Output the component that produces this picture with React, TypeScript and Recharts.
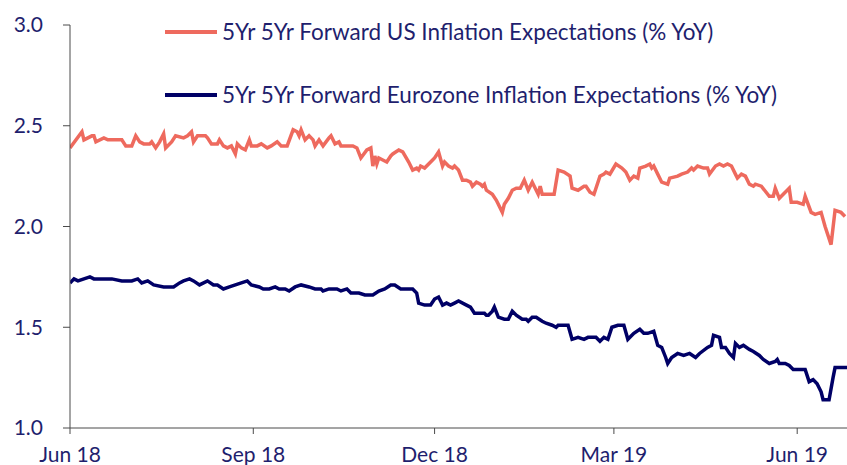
import React from "react";
import { LineChart, Line, XAxis, YAxis, Legend } from "recharts";

const usDates = [
  "2018-06-01","2018-06-07","2018-06-08","2018-06-12","2018-06-13","2018-06-14","2018-06-18","2018-06-20","2018-06-25","2018-06-27",
  "2018-06-29","2018-07-02","2018-07-04","2018-07-06","2018-07-08","2018-07-11","2018-07-12","2018-07-14","2018-07-16","2018-07-18",
  "2018-07-19","2018-07-22","2018-07-24","2018-07-28","2018-07-30","2018-08-01","2018-08-02","2018-08-04","2018-08-05","2018-08-08",
  "2018-08-09","2018-08-11","2018-08-14","2018-08-15","2018-08-17","2018-08-19","2018-08-21","2018-08-23","2018-08-24","2018-08-26",
  "2018-08-28","2018-08-30","2018-08-31","2018-09-03","2018-09-05","2018-09-08","2018-09-10","2018-09-13","2018-09-15","2018-09-18",
  "2018-09-21","2018-09-23","2018-09-24","2018-09-25","2018-09-27","2018-09-29","2018-10-01","2018-10-02","2018-10-04","2018-10-06",
  "2018-10-09","2018-10-10","2018-10-12","2018-10-14","2018-10-15","2018-10-17","2018-10-19","2018-10-21","2018-10-23","2018-10-25",
  "2018-10-28","2018-10-30","2018-10-31","2018-11-01","2018-11-02","2018-11-03","2018-11-05","2018-11-07","2018-11-09","2018-11-10",
  "2018-11-13","2018-11-15","2018-11-18","2018-11-20","2018-11-22","2018-11-23","2018-11-24","2018-11-26","2018-11-30","2018-12-01",
  "2018-12-03","2018-12-05","2018-12-06","2018-12-08","2018-12-10","2018-12-11","2018-12-13","2018-12-15","2018-12-17","2018-12-19",
  "2018-12-20","2018-12-22","2018-12-24","2018-12-25","2018-12-26","2018-12-27","2018-12-30","2019-01-01","2019-01-04","2019-01-05",
  "2019-01-07","2019-01-09","2019-01-11","2019-01-13","2019-01-15","2019-01-17","2019-01-19","2019-01-21","2019-01-22","2019-01-23",
  "2019-01-24","2019-01-26","2019-01-30","2019-02-01","2019-02-04","2019-02-07","2019-02-08","2019-02-11","2019-02-14","2019-02-15",
  "2019-02-17","2019-02-19","2019-02-22","2019-02-24","2019-02-25","2019-02-27","2019-03-02","2019-03-05","2019-03-07","2019-03-09",
  "2019-03-11","2019-03-13","2019-03-14","2019-03-17","2019-03-19","2019-03-20","2019-03-21","2019-03-23","2019-03-25","2019-03-28",
  "2019-03-29","2019-04-02","2019-04-04","2019-04-07","2019-04-09","2019-04-10","2019-04-12","2019-04-15","2019-04-17","2019-04-18",
  "2019-04-21","2019-04-23","2019-04-25","2019-04-27","2019-04-29","2019-05-01","2019-05-02","2019-05-04","2019-05-06","2019-05-08",
  "2019-05-10","2019-05-11","2019-05-14","2019-05-18","2019-05-20","2019-05-21","2019-05-23","2019-05-26","2019-05-28","2019-05-29",
  "2019-06-01","2019-06-04","2019-06-05","2019-06-08","2019-06-10","2019-06-13","2019-06-15","2019-06-18","2019-06-20","2019-06-23",
  "2019-06-25",
];
const usValues = [
  2.39,2.47,2.43,2.45,2.45,2.42,2.44,2.43,2.43,2.43,
  2.40,2.40,2.45,2.42,2.41,2.41,2.42,2.39,2.42,2.46,
  2.39,2.42,2.45,2.44,2.45,2.47,2.42,2.45,2.45,2.45,
  2.44,2.41,2.41,2.43,2.40,2.39,2.40,2.36,2.41,2.39,
  2.38,2.43,2.40,2.40,2.41,2.39,2.40,2.42,2.40,2.40,
  2.48,2.47,2.45,2.48,2.43,2.45,2.43,2.40,2.43,2.40,
  2.44,2.45,2.41,2.42,2.40,2.40,2.40,2.40,2.39,2.34,
  2.38,2.39,2.30,2.35,2.31,2.34,2.33,2.32,2.35,2.36,
  2.38,2.37,2.32,2.28,2.29,2.28,2.30,2.29,2.33,2.34,
  2.37,2.30,2.32,2.30,2.29,2.30,2.28,2.23,2.23,2.22,
  2.20,2.22,2.21,2.20,2.21,2.18,2.16,2.13,2.07,2.11,
  2.14,2.18,2.19,2.19,2.23,2.18,2.22,2.18,2.16,2.20,
  2.16,2.16,2.16,2.28,2.27,2.25,2.19,2.18,2.20,2.20,
  2.17,2.16,2.25,2.26,2.27,2.26,2.31,2.29,2.27,2.23,
  2.25,2.24,2.29,2.30,2.31,2.29,2.30,2.26,2.22,2.21,
  2.24,2.25,2.26,2.27,2.29,2.28,2.30,2.29,2.29,2.26,
  2.30,2.31,2.30,2.31,2.30,2.26,2.24,2.26,2.25,2.21,
  2.20,2.21,2.20,2.15,2.15,2.19,2.14,2.17,2.19,2.12,
  2.12,2.11,2.15,2.07,2.06,2.07,2.00,1.91,2.08,2.07,
  2.05,
];

const euDates = [
  "2018-06-01","2018-06-03","2018-06-05","2018-06-08","2018-06-11","2018-06-13","2018-06-16","2018-06-19","2018-06-22","2018-06-27",
  "2018-06-30","2018-07-02","2018-07-05","2018-07-07","2018-07-10","2018-07-13","2018-07-18","2018-07-21","2018-07-23","2018-07-26",
  "2018-07-28","2018-07-31","2018-08-02","2018-08-05","2018-08-09","2018-08-12","2018-08-14","2018-08-17","2018-08-20","2018-08-23",
  "2018-08-26","2018-08-29","2018-08-31","2018-09-04","2018-09-06","2018-09-09","2018-09-12","2018-09-14","2018-09-17","2018-09-19",
  "2018-09-22","2018-09-25","2018-09-29","2018-10-02","2018-10-05","2018-10-06","2018-10-09","2018-10-10","2018-10-13","2018-10-15",
  "2018-10-18","2018-10-20","2018-10-24","2018-10-27","2018-10-31","2018-11-03","2018-11-06","2018-11-09","2018-11-11","2018-11-14",
  "2018-11-20","2018-11-22","2018-11-23","2018-11-26","2018-11-29","2018-12-01","2018-12-03","2018-12-05","2018-12-07","2018-12-09",
  "2018-12-11","2018-12-13","2018-12-17","2018-12-19","2018-12-21","2018-12-23","2018-12-26","2018-12-27","2018-12-28","2018-12-30",
  "2018-12-31","2019-01-02","2019-01-05","2019-01-07","2019-01-09","2019-01-11","2019-01-14","2019-01-16","2019-01-17","2019-01-19",
  "2019-01-21","2019-01-24","2019-01-26","2019-01-29","2019-01-31","2019-02-01","2019-02-06","2019-02-08","2019-02-11","2019-02-14",
  "2019-02-16","2019-02-20","2019-02-22","2019-02-24","2019-02-26","2019-02-28","2019-03-03","2019-03-06","2019-03-08","2019-03-11",
  "2019-03-14","2019-03-16","2019-03-18","2019-03-21","2019-03-23","2019-03-25","2019-03-27","2019-03-28","2019-03-30","2019-04-02",
  "2019-04-05","2019-04-08","2019-04-11","2019-04-13","2019-04-17","2019-04-19","2019-04-20","2019-04-23","2019-04-24","2019-04-26",
  "2019-04-28","2019-04-30","2019-05-01","2019-05-03","2019-05-05","2019-05-08","2019-05-10","2019-05-13","2019-05-15","2019-05-18",
  "2019-05-21","2019-05-22","2019-05-23","2019-05-26","2019-05-28","2019-05-30","2019-06-02","2019-06-05","2019-06-07","2019-06-09",
  "2019-06-11","2019-06-13","2019-06-14","2019-06-17","2019-06-19","2019-06-20","2019-06-23","2019-06-26",
];
const euValues = [
  1.72,1.74,1.73,1.74,1.75,1.74,1.74,1.74,1.74,1.73,
  1.73,1.73,1.74,1.72,1.73,1.71,1.70,1.70,1.70,1.72,
  1.73,1.74,1.73,1.71,1.73,1.71,1.71,1.69,1.70,1.71,
  1.72,1.73,1.71,1.70,1.69,1.69,1.70,1.69,1.69,1.68,
  1.70,1.71,1.70,1.69,1.69,1.68,1.69,1.69,1.69,1.68,
  1.69,1.67,1.67,1.66,1.66,1.68,1.69,1.71,1.71,1.69,
  1.69,1.67,1.62,1.61,1.61,1.64,1.65,1.61,1.62,1.61,
  1.62,1.63,1.61,1.60,1.57,1.57,1.57,1.56,1.56,1.58,
  1.60,1.55,1.54,1.54,1.58,1.56,1.54,1.54,1.53,1.55,
  1.55,1.53,1.52,1.51,1.50,1.51,1.51,1.44,1.45,1.44,
  1.45,1.45,1.43,1.45,1.44,1.50,1.51,1.51,1.44,1.47,
  1.49,1.47,1.47,1.48,1.41,1.40,1.35,1.32,1.35,1.37,
  1.36,1.37,1.35,1.37,1.40,1.41,1.46,1.45,1.40,1.40,
  1.37,1.35,1.42,1.40,1.41,1.39,1.38,1.36,1.34,1.32,
  1.33,1.34,1.32,1.32,1.31,1.29,1.29,1.29,1.23,1.24,
  1.22,1.18,1.14,1.14,1.25,1.30,1.30,1.30,
];

const xTickDates = ["2018-06-01", "2018-09-01", "2018-12-01", "2019-03-01", "2019-06-01"];
const xTickLabels = ["Jun 18", "Sep 18", "Dec 18", "Mar 19", "Jun 19"];
const xDomainDates = ["2018-06-01", "2019-06-26"];
const yTicks = [1.0, 1.5, 2.0, 2.5, 3.0];

const seriesNames = [
  "5Yr 5Yr Forward US Inflation Expectations (% YoY)",
  "5Yr 5Yr Forward Eurozone Inflation Expectations (% YoY)",
];
const seriesColors = ["#ee6a5e", "#000066"];

const FONT = "Lato, 'DejaVu Sans', sans-serif";
const TEXT = "#1f1f6e";
const AXIS = "#4a4a4a";

const toT = (d: string) => Date.parse(d + "T00:00:00Z");

const usData = usDates.map((d, i) => ({ t: toT(d), v: usValues[i] }));
const euData = euDates.map((d, i) => ({ t: toT(d), v: euValues[i] }));
const xTicks = xTickDates.map(toT);
const labelByT: Record<number, string> = {};
xTicks.forEach((t, i) => (labelByT[t] = xTickLabels[i]));

const renderLegend = () => (
  <div style={{ fontFamily: FONT, fontSize: 22.5, color: TEXT }}>
    {seriesNames.map((name, i) => (
      <div
        key={name}
        style={{ display: "flex", alignItems: "center", height: 30, marginBottom: i === 0 ? 33 : 0 }}
      >
        <svg width={57} height={10} style={{ display: "block" }}>
          <line x1={0} y1={5} x2={52} y2={5} stroke={seriesColors[i]} strokeWidth={4} />
        </svg>
        <span style={{ whiteSpace: "nowrap", lineHeight: "30px" }}>{name}</span>
      </div>
    ))}
  </div>
);

export default function App() {
  return (
    <div style={{ position: "absolute", left: 0, top: 0 }}>
      <LineChart
        width={847}
        height={465}
        margin={{ top: 25, right: 0, bottom: 0, left: 0 }}
      >
        <XAxis
          dataKey="t"
          type="number"
          domain={xDomainDates.map(toT)}
          ticks={xTicks}
          tickFormatter={(t: number) => labelByT[t] ?? ""}
          allowDataOverflow
          height={37}
          tickSize={6}
          tickMargin={13}
          stroke={AXIS}
          tick={{ fill: TEXT, fontSize: 21, fontFamily: FONT }}
        />
        <YAxis
          type="number"
          domain={[1, 3]}
          ticks={yTicks}
          tickFormatter={(v: number) => v.toFixed(1)}
          width={70}
          tickSize={7}
          tickMargin={20}
          stroke={AXIS}
          tick={{ fill: TEXT, fontSize: 21, fontFamily: FONT }}
          allowDataOverflow
        />
        <Legend
          layout="horizontal"
          verticalAlign="middle"
          align="center"
          content={renderLegend}
          wrapperStyle={{ position: "absolute", top: 17, left: 165, width: 680, height: 100 }}
        />
        <Line
          data={usData}
          dataKey="v"
          name={seriesNames[0]}
          stroke={seriesColors[0]}
          strokeWidth={3.5}
          dot={false}
          activeDot={false}
          type="linear"
          isAnimationActive={false}
        />
        <Line
          data={euData}
          dataKey="v"
          name={seriesNames[1]}
          stroke={seriesColors[1]}
          strokeWidth={3.5}
          dot={false}
          activeDot={false}
          type="linear"
          isAnimationActive={false}
        />
      </LineChart>
    </div>
  );
}
